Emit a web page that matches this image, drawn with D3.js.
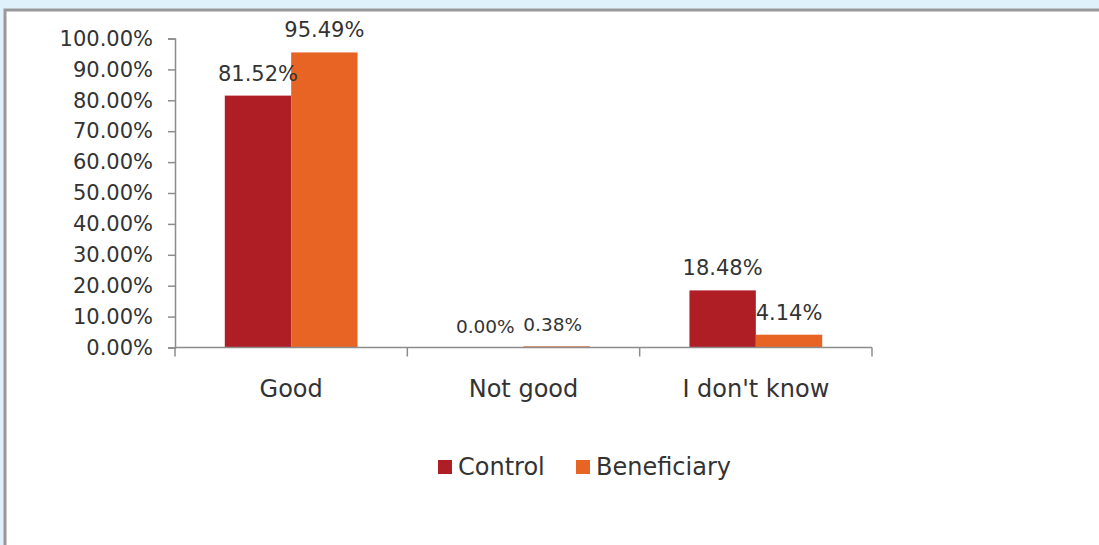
<!DOCTYPE html>
<html>
<head>
<meta charset="utf-8">
<script src="https://cdn.jsdelivr.net/npm/d3@7"></script>
<style>
  html, body { margin: 0; padding: 0; background: #dff1fb; }
  svg { display: block; }
  text { font-family: "Century Gothic", "DejaVu Sans", sans-serif; fill: #333333; }
</style>
</head>
<body>
<svg id="chart" width="1099" height="545"></svg>
<script>
// Survey answers by group (percent of respondents)
const categories = ["Good", "Not good", "I don't know"];
const seriesNames = ["Control", "Beneficiary"];
const controlValues = [81.52, 0.00, 18.48];
const beneficiaryValues = [95.49, 0.38, 4.14];
const yTicks = [0, 10, 20, 30, 40, 50, 60, 70, 80, 90, 100];
const colors = ["#ae1e24", "#e86424"];
// small horizontal nudges so the two labels above the near-zero bars do not collide
const labelNudge = [[0, 0], [-5, -4], [0, 0]];

const svg = d3.select("#chart");

// white panel with grey frame
svg.append("rect")
  .attr("x", 5).attr("y", 10)
  .attr("width", 1200).attr("height", 600)
  .attr("fill", "#ffffff")
  .attr("stroke", "#999999").attr("stroke-width", 3);

const plot = { left: 175, right: 872, top: 38.5, bottom: 347.5 };

const x0 = d3.scaleBand().domain(categories).range([plot.left, plot.right]).paddingInner(0).paddingOuter(0);
const x1 = d3.scaleBand().domain(seriesNames).range([0, x0.bandwidth()]).paddingInner(0).paddingOuter(0.75);
const y = d3.scaleLinear().domain([0, 100]).range([plot.bottom, plot.top]);

const rows = categories.map((c, i) => ({
  category: c,
  idx: i,
  values: [controlValues[i], beneficiaryValues[i]]
}));

// y axis
const yAxis = svg.append("g")
  .attr("transform", `translate(${plot.left},0)`)
  .call(d3.axisLeft(y).tickValues(yTicks).tickFormat(d => d.toFixed(2) + "%").tickSize(7).tickPadding(15));
yAxis.select(".domain").attr("stroke", "#8c8c8c").attr("stroke-width", 1.5);
yAxis.selectAll(".tick line").attr("stroke", "#8c8c8c").attr("stroke-width", 1.5);
yAxis.selectAll(".tick text").attr("font-size", 21).attr("fill", "#333333")
  .style("font-family", '"Century Gothic", "DejaVu Sans", sans-serif');

// bars
const groups = svg.selectAll("g.cat").data(rows).join("g")
  .attr("class", "cat")
  .attr("transform", d => `translate(${x0(d.category)},0)`);

groups.selectAll("rect").data(d => d.values.map((v, k) => ({ v, k, idx: d.idx }))).join("rect")
  .attr("x", d => x1(seriesNames[d.k]))
  .attr("y", d => y(d.v))
  .attr("width", x1.bandwidth())
  .attr("height", d => y(0) - y(d.v))
  .attr("fill", d => colors[d.k]);

// x axis with category separators
const xAxis = svg.append("g").attr("transform", `translate(0,${plot.bottom})`);
xAxis.append("line")
  .attr("x1", plot.left).attr("x2", plot.right)
  .attr("stroke", "#8c8c8c").attr("stroke-width", 1.5);
const boundaries = categories.map(c => x0(c)).concat([x0(categories[categories.length - 1]) + x0.bandwidth()]);
xAxis.selectAll("line.sep").data(boundaries).join("line")
  .attr("class", "sep")
  .attr("x1", d => d).attr("x2", d => d)
  .attr("y1", 0).attr("y2", 9)
  .attr("stroke", "#8c8c8c").attr("stroke-width", 1.5);
xAxis.selectAll("text").data(categories).join("text")
  .attr("x", d => x0(d) + x0.bandwidth() / 2)
  .attr("y", 49)
  .attr("text-anchor", "middle")
  .attr("font-size", 24)
  .text(d => d);

// value labels
groups.selectAll("text.val").data(d => d.values.map((v, k) => ({ v, k, idx: d.idx }))).join("text")
  .attr("class", "val")
  .attr("x", d => x1(seriesNames[d.k]) + x1.bandwidth() / 2 + labelNudge[d.idx][d.k])
  .attr("y", d => y(d.v) - 15)
  .attr("text-anchor", "middle")
  .attr("font-size", d => d.idx === 1 ? 18.5 : 21)
  .text(d => d.v.toFixed(2) + "%");

// legend
const legend = svg.append("g").attr("transform", "translate(438,460)");
const legendOffsets = [0, 138];
seriesNames.forEach((name, k) => {
  const g = legend.append("g").attr("transform", `translate(${legendOffsets[k]},0)`);
  g.append("rect").attr("width", 14).attr("height", 14).attr("fill", colors[k]);
  g.append("text").attr("x", 20).attr("y", 15).attr("font-size", 24).text(name);
});
</script>
</body>
</html>
